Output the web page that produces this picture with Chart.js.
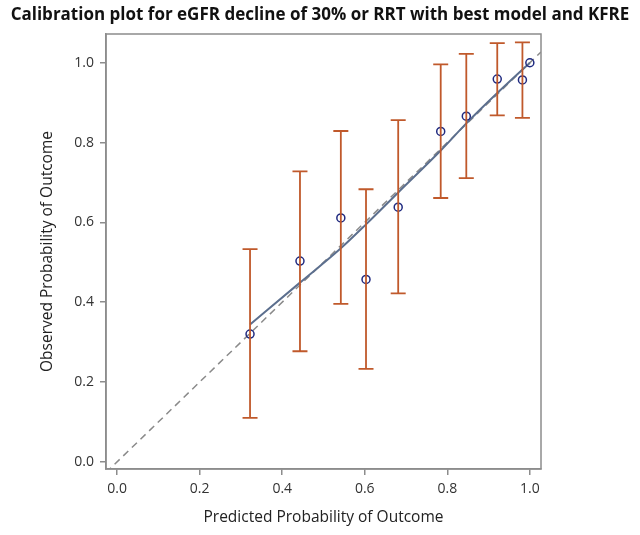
<!DOCTYPE html>
<html><head><meta charset="utf-8">
<script src="https://cdn.jsdelivr.net/npm/chart.js@4"></script>
<style>html,body{margin:0;padding:0;background:#fff}#wrap{width:640px;height:535px}</style>
</head><body><div id="wrap"><canvas id="c" width="640" height="535"></canvas></div>
<script>
const titleText = 'Calibration plot for eGFR decline of 30% or RRT with best model and KFRE';
const predicted = [0.322, 0.443, 0.542, 0.603, 0.681, 0.784, 0.846, 0.921, 0.982, 1.0];
const observed  = [0.320, 0.503, 0.611, 0.457, 0.638, 0.828, 0.866, 0.959, 0.957, 1.0];
const ciLower   = [0.110, 0.277, 0.396, 0.233, 0.422, 0.661, 0.711, 0.868, 0.862, null];
const ciUpper   = [0.533, 0.728, 0.829, 0.683, 0.856, 0.996, 1.022, 1.049, 1.051, null];
const smoothX   = [0.322, 0.443, 0.542, 0.603, 0.681, 0.784, 0.846, 0.921, 1.0];
const smoothY   = [0.344, 0.449, 0.535, 0.595, 0.675, 0.780, 0.848, 0.924, 1.0];
const refX      = [-0.027, 1.027];
const refY      = [-0.027, 1.027];
const tickValues = [0, 0.2, 0.4, 0.6, 0.8, 1.0];

const errBars = {
  id: 'errBars',
  afterDatasetsDraw(chart) {
    const {ctx, scales: {x, y}} = chart;
    ctx.save();
    ctx.strokeStyle = '#C0592B';
    ctx.lineWidth = 1.8;
    for (let i = 0; i < predicted.length; i++) {
      if (ciLower[i] == null) continue;
      const px = x.getPixelForValue(predicted[i]);
      const lo = y.getPixelForValue(ciLower[i]);
      const hi = y.getPixelForValue(ciUpper[i]);
      ctx.beginPath();
      ctx.moveTo(px, lo); ctx.lineTo(px, hi);
      ctx.moveTo(px - 7.5, lo); ctx.lineTo(px + 7.5, lo);
      ctx.moveTo(px - 7.5, hi); ctx.lineTo(px + 7.5, hi);
      ctx.stroke();
    }
    ctx.restore();
  }
};
const frame = {
  id: 'frame',
  afterDraw(chart) {
    const a = chart.chartArea, ctx = chart.ctx;
    ctx.save();
    ctx.strokeStyle = '#8c8c8c';
    ctx.lineWidth = 1.5;
    ctx.strokeRect(a.left, a.top, a.right - a.left, a.bottom - a.top);
    ctx.fillStyle = '#111';
    ctx.font = 'bold 17px "Open Sans"';
    ctx.textAlign = 'center';
    ctx.textBaseline = 'middle';
    ctx.fillText(titleText, chart.width / 2, 15);
    ctx.restore();
  }
};

new Chart(document.getElementById('c'), {
  type: 'scatter',
  data: {
    datasets: [
      { type: 'line', data: refX.map((v, i) => ({x: v, y: refY[i]})), borderColor: '#8a8a8a', borderWidth: 1.5, borderDash: [7, 5], pointRadius: 0, fill: false, order: 3 },
      { type: 'line', data: smoothX.map((v, i) => ({x: v, y: smoothY[i]})), borderColor: '#5C6F8E', borderWidth: 2, pointRadius: 0, cubicInterpolationMode: 'monotone', fill: false, order: 2 },
      { data: predicted.map((v, i) => ({x: v, y: observed[i]})), pointStyle: 'circle', pointRadius: 4, borderColor: '#1F2A80', backgroundColor: 'rgba(0,0,0,0)', borderWidth: 1.5, order: 0 }
    ]
  },
  options: {
    responsive: false,
    animation: false,
    layout: { padding: { left: 36, right: 99, top: 34, bottom: 0 } },
    plugins: {
      legend: { display: false },
      tooltip: { enabled: false },
      title: { display: false }
    },
    scales: {
      x: {
        type: 'linear', min: -0.027, max: 1.027,
        afterBuildTicks(s) { s.ticks = tickValues.map(v => ({value: v})); },
        afterFit(s) { s.height = 66; },
        grid: { display: true, drawOnChartArea: false, drawTicks: true, tickLength: 6, color: '#8c8c8c', lineWidth: 1.5 },
        border: { display: true, color: '#8c8c8c', width: 1.5 },
        ticks: { color: '#333', font: { family: 'Open Sans', size: 14 }, padding: 6, callback: v => v.toFixed(1), maxRotation: 0 },
        title: { display: true, text: 'Predicted Probability of Outcome', color: '#222', font: { family: 'Open Sans', size: 15.5 }, padding: { top: 8, bottom: 8 } }
      },
      y: {
        type: 'linear', min: -0.018, max: 1.072,
        afterBuildTicks(s) { s.ticks = tickValues.map(v => ({value: v})); },
        afterFit(s) { s.width = 70; },
        grid: { display: true, drawOnChartArea: false, drawTicks: true, tickLength: 6, color: '#8c8c8c', lineWidth: 1.5 },
        border: { display: true, color: '#8c8c8c', width: 1.5 },
        ticks: { color: '#333', font: { family: 'Open Sans', size: 14 }, padding: 6, callback: v => v.toFixed(1) },
        title: { display: true, text: 'Observed Probability of Outcome', color: '#222', font: { family: 'Open Sans', size: 15.5 }, padding: { top: 2, bottom: 2 } }
      }
    }
  },
  plugins: [errBars, frame]
});
</script></body></html>
